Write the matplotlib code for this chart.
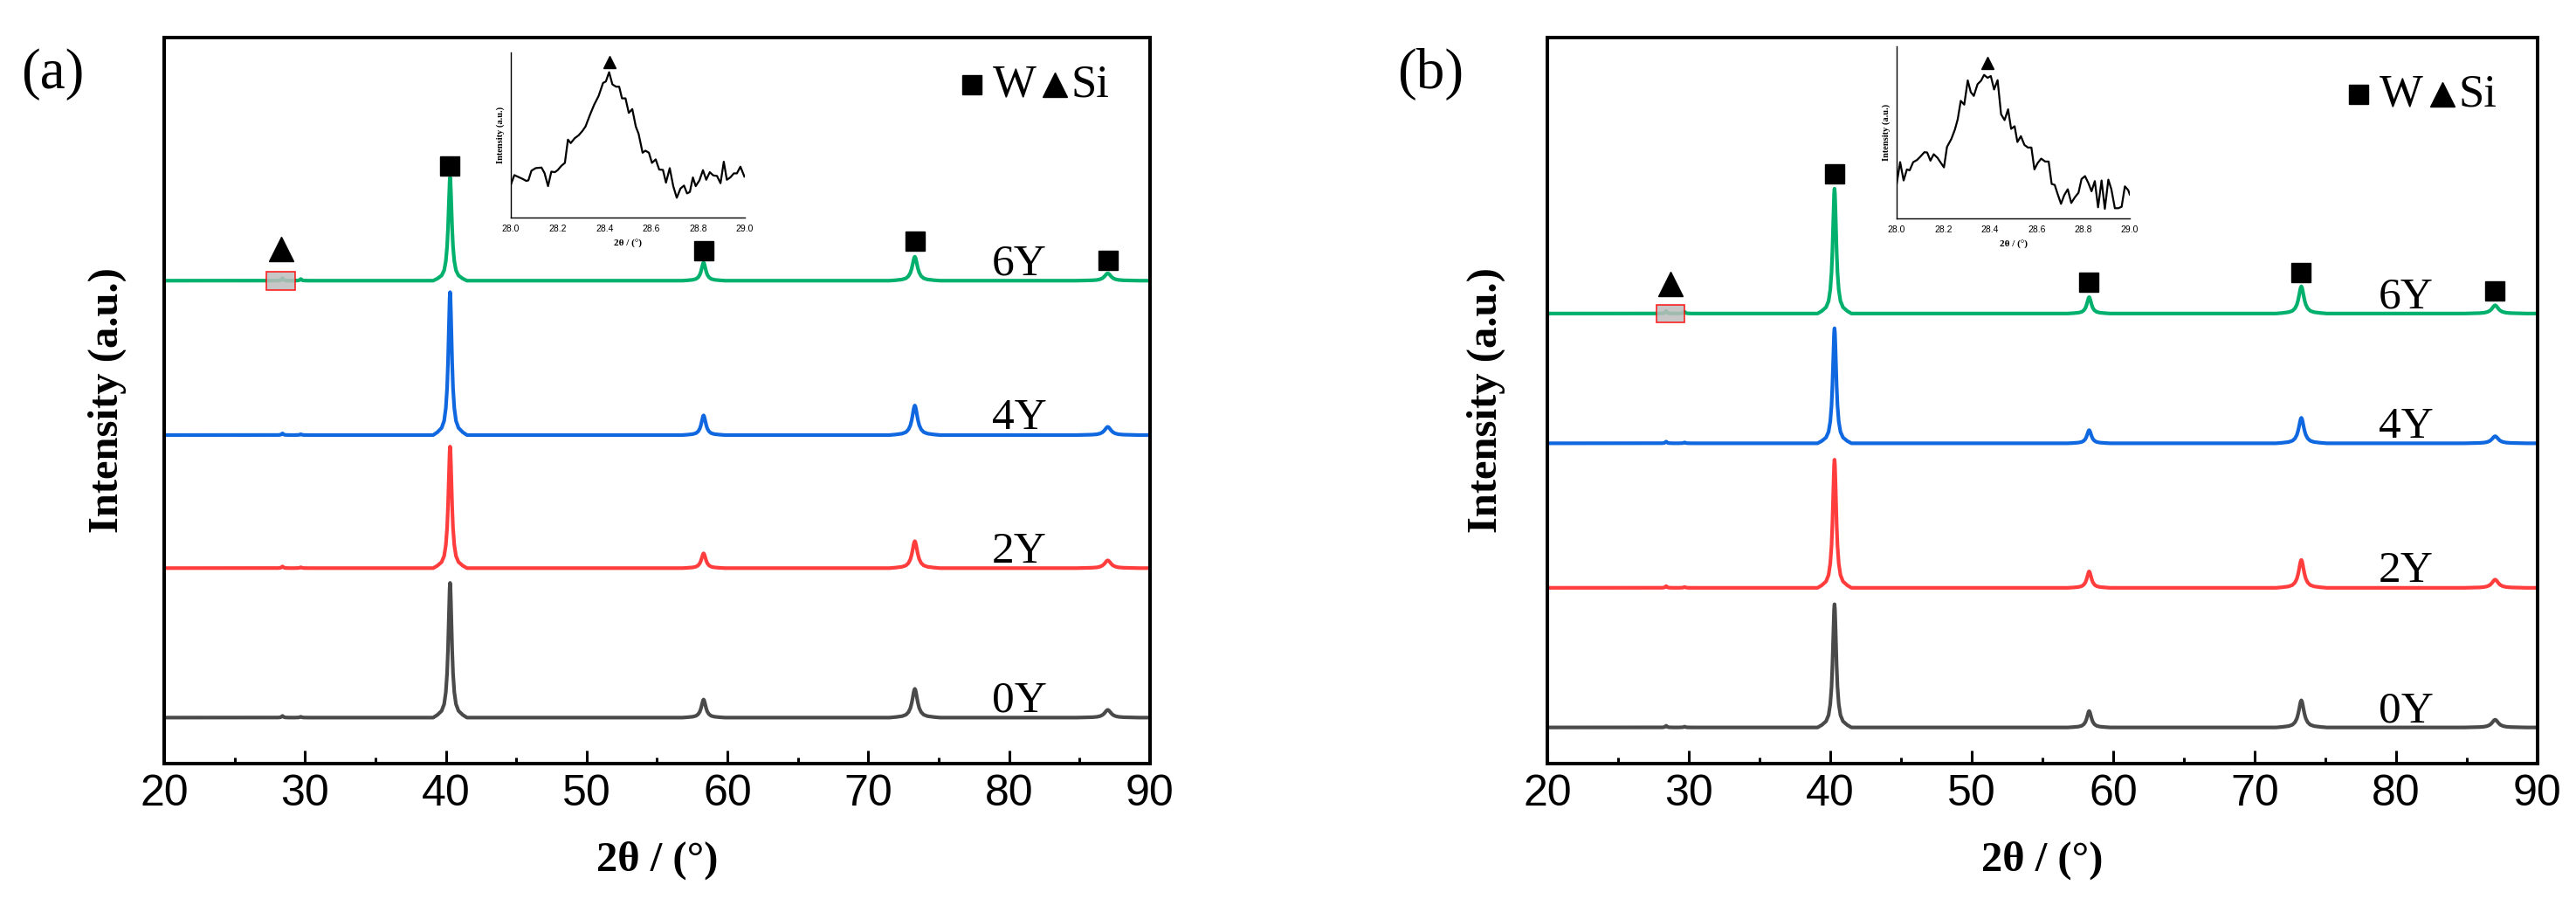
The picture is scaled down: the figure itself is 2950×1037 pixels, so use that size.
import matplotlib
matplotlib.use("Agg")
import matplotlib.pyplot as plt
from matplotlib.patches import Rectangle
from matplotlib.ticker import MultipleLocator, FormatStrFormatter

# ---------------- data ----------------
samples = ["0Y", "2Y", "4Y", "6Y"]
colors = ["#4a4a4a", "#ff3d3d", "#1068e0", "#00b06c"]

# peak positions (2theta, deg) and widths (FWHM, deg)
peak_pos = [28.4, 29.7, 40.3, 58.3, 73.3, 87.0]
peak_fwhm = [0.15, 0.15, 0.30, 0.38, 0.45, 0.55]
# measured peak profile (offset in FWHM units, relative height)
profile_u = [-4, -3, -2, -1.4, -1, -0.7, -0.5, -0.35, -0.2, -0.1, 0,
             0.1, 0.2, 0.35, 0.5, 0.7, 1, 1.4, 2, 3, 4]
profile_rel = [0, 0.02, 0.05, 0.10, 0.19, 0.33, 0.5, 0.67, 0.86, 0.96, 1,
               0.96, 0.86, 0.67, 0.5, 0.33, 0.19, 0.10, 0.05, 0.02, 0]

# panel (a): stacking offsets and peak heights (a.u.)
a_offset = [28, 119, 200, 294]
a_h_0Y = [1.0, 0.5, 82, 11, 17.5, 4.7]
a_h_2Y = [1.0, 0.5, 74, 9, 16.4, 4.7]
a_h_4Y = [1.0, 0.5, 87, 12, 18, 5]
a_h_6Y = [1.5, 1.0, 63, 11, 14.6, 4.5]

# panel (b)
b_offset = [22, 107, 195, 274]
b_h_0Y = [1.0, 0.5, 75, 10, 16.5, 4.7]
b_h_2Y = [1.0, 0.5, 78, 10, 17, 5]
b_h_4Y = [1.0, 0.5, 70, 8, 15.5, 4.3]
b_h_6Y = [1.5, 1.0, 76, 10, 16.5, 5]

# phase markers: (2theta, height)
a_W_x = [40.3, 58.3, 73.3, 87.0]
a_W_y = [364, 312, 318, 306.5]
a_Si_x = [28.3]
a_Si_y = [313.5]
b_W_x = [40.3, 58.3, 73.3, 87.0]
b_W_y = [359, 293, 299, 288]
b_Si_x = [28.7]
b_Si_y = [292]

# inset data (Si peak region)
ia_x = [28.000, 28.015, 28.031, 28.050, 28.066, 28.075, 28.088, 28.106, 28.131, 28.144,
        28.159, 28.173, 28.188, 28.200, 28.216, 28.231, 28.244, 28.256, 28.273, 28.290,
        28.306, 28.319, 28.338, 28.356, 28.375, 28.394, 28.406, 28.420, 28.434, 28.450,
        28.463, 28.475, 28.490, 28.504, 28.519, 28.534, 28.546, 28.563, 28.575, 28.590,
        28.603, 28.619, 28.634, 28.650, 28.663, 28.679, 28.694, 28.709, 28.725, 28.740,
        28.753, 28.765, 28.778, 28.790, 28.806, 28.821, 28.835, 28.850, 28.865, 28.881,
        28.896, 28.910, 28.923, 28.938, 28.953, 28.966, 28.981, 28.998]
ia_y = [113, 146, 140, 133, 126, 128, 161, 170, 172, 153,
        108, 158, 156, 163, 178, 188, 268, 256, 273, 283,
        298, 313, 353, 388, 418, 463, 468, 500, 458, 450,
        450, 410, 410, 360, 373, 313, 288, 223, 230, 223,
        188, 200, 165, 164, 120, 170, 108, 68, 100, 110,
        83, 88, 138, 108, 128, 163, 130, 156, 145, 143,
        118, 192, 130, 138, 152, 152, 175, 141]
ib_x = [28.000, 28.015, 28.030, 28.044, 28.056, 28.071, 28.087, 28.102, 28.119, 28.131,
        28.145, 28.159, 28.175, 28.190, 28.203, 28.216, 28.235, 28.250, 28.262, 28.275,
        28.290, 28.305, 28.318, 28.331, 28.347, 28.362, 28.375, 28.390, 28.404, 28.418,
        28.433, 28.448, 28.463, 28.478, 28.491, 28.506, 28.518, 28.533, 28.548, 28.563,
        28.578, 28.591, 28.605, 28.620, 28.637, 28.652, 28.665, 28.678, 28.690, 28.705,
        28.719, 28.734, 28.749, 28.764, 28.780, 28.793, 28.808, 28.823, 28.836, 28.850,
        28.864, 28.879, 28.893, 28.908, 28.921, 28.936, 28.951, 28.965, 28.979, 28.993,
        29.000]
ib_y = [118, 193, 130, 168, 165, 193, 200, 212, 227, 226,
        198, 220, 208, 190, 175, 245, 273, 305, 340, 403,
        390, 473, 433, 420, 460, 472, 492, 482, 488, 442,
        474, 357, 337, 374, 307, 316, 262, 282, 252, 243,
        243, 168, 190, 205, 195, 195, 118, 115, 85, 50,
        80, 100, 53, 72, 88, 135, 145, 120, 93, 128,
        38, 130, 33, 133, 100, 35, 35, 40, 110, 97,
        82]
ia_Si = (28.42, 536)
ib_Si = (28.39, 533)

x_ticks = [20, 30, 40, 50, 60, 70, 80, 90]
inset_ticks = [28.0, 28.2, 28.4, 28.6, 28.8, 29.0]

# ---------------- styling ----------------
SERIF = ["Liberation Serif", "DejaVu Serif"]
SANS = ["Liberation Sans", "DejaVu Sans"]
plt.rcParams["font.family"] = SERIF
plt.rcParams["mathtext.fontset"] = "stix"

W_PX, H_PX = 2950, 1037
fig = plt.figure(figsize=(W_PX / 100, H_PX / 100), dpi=100)


def build_trace(offset, heights):
    xs, ys = [20.0], [offset]
    for c, w, h in zip(peak_pos, peak_fwhm, heights):
        for u, r in zip(profile_u, profile_rel):
            xs.append(c + u * w)
            ys.append(offset + h * r)
    xs.append(90.0)
    ys.append(offset)
    return xs, ys


def frac(left, top, right, bottom):
    return [left / W_PX, 1 - bottom / H_PX, (right - left) / W_PX, (bottom - top) / H_PX]


def main_panel(rect, offsets, heights, W_x, W_y, Si_x, Si_y, rect_x, letter,
               letter_xy, legend_dy, ylabel_x):
    ax = fig.add_axes(rect)
    for off, h, col, name in zip(offsets, heights, colors, samples):
        xs, ys = build_trace(off, h)
        ax.plot(xs, ys, color=col, lw=3.0, solid_joinstyle="round", zorder=2)
        ax.text(80.7, off + 3.5, name, fontsize=37, ha="center", va="baseline",
                family=SERIF, zorder=4)
    ax.plot(W_x, W_y, ls="none", marker="s", ms=16, color="black", zorder=4)
    ax.plot(Si_x, Si_y, ls="none", marker="^", ms=20, color="black", zorder=4)
    ax.add_patch(Rectangle((rect_x[0], offsets[3] - 5.5), rect_x[1] - rect_x[0], 11,
                           facecolor="#bdbdbd", edgecolor="red", lw=1.2, alpha=0.85,
                           zorder=3))
    ax.set_xlim(20, 90)
    ax.set_ylim(0, 442)
    ax.set_yticks([])
    ax.xaxis.set_major_locator(MultipleLocator(10))
    ax.xaxis.set_minor_locator(MultipleLocator(5))
    ax.set_xticks(x_ticks)
    ax.tick_params(axis="x", which="major", direction="in", length=11, width=2.2,
                   labelsize=36, pad=9, top=False)
    ax.tick_params(axis="x", which="minor", direction="in", length=5, width=2.2, top=False)
    for lab in ax.get_xticklabels():
        lab.set_family(SANS)
    for sp in ax.spines.values():
        sp.set_linewidth(2.9)
    ax.set_xlabel("2θ / (°)", fontsize=35, fontweight="bold", family=SERIF)
    ax.xaxis.set_label_coords(0.5, -0.133)
    ax.xaxis.label.set_va("center")
    ax.set_ylabel("Intensity (a.u.)", fontsize=35, fontweight="bold", family=SERIF)
    ax.yaxis.set_label_coords(ylabel_x, 0.5)
    ax.yaxis.label.set_va("center")
    # legend of phases
    ly = 0.935 - legend_dy
    ax.plot([0.819], [ly], transform=ax.transAxes, marker="s", ms=16, color="black",
            ls="none", clip_on=False)
    ax.text(0.8406, ly - 0.016, "W", transform=ax.transAxes, fontsize=38,
            va="baseline", ha="left", family=SERIF)
    ax.plot([0.9035], [ly], transform=ax.transAxes, marker="^", ms=20, color="black",
            ls="none", clip_on=False)
    ax.text(0.920, ly - 0.016, "Si", transform=ax.transAxes, fontsize=38,
            va="baseline", ha="left", family=SERIF)
    fig.text(letter_xy[0] / W_PX, 1 - letter_xy[1] / H_PX, letter, fontsize=47,
             ha="center", va="center", family=SERIF)
    return ax


def inset(rect, xs, ys, ymax, si):
    ax = fig.add_axes(rect)
    ax.plot(xs, ys, color="black", lw=1.6)
    ax.plot([si[0]], [si[1]], marker="^", ms=10, color="black", ls="none", clip_on=False)
    ax.set_xlim(28.0, 29.0)
    ax.set_ylim(0, ymax)
    ax.set_xticks(inset_ticks)
    ax.xaxis.set_major_formatter(FormatStrFormatter("%.1f"))
    ax.set_yticks([])
    ax.tick_params(axis="x", length=0, labelsize=7.5, pad=6)
    for lab in ax.get_xticklabels():
        lab.set_family(SANS)
    ax.spines["top"].set_visible(False)
    ax.spines["right"].set_visible(False)
    ax.spines["left"].set_linewidth(1.0)
    ax.spines["bottom"].set_linewidth(1.0)
    ax.patch.set_alpha(0)
    ax.set_xlabel("2θ / (°)", fontsize=8, fontweight="bold", family=SERIF, labelpad=5)
    ax.set_ylabel("Intensity (a.u.)", fontsize=7.5, fontweight="bold", family=SERIF,
                  labelpad=5)
    return ax


main_panel(frac(188, 43, 1317, 874), a_offset, [a_h_0Y, a_h_2Y, a_h_4Y, a_h_6Y],
           a_W_x, a_W_y, a_Si_x, a_Si_y, (27.25, 29.3), "(a)", (60, 85), 0.0, -0.058)
main_panel(frac(1772, 43, 2906, 874), b_offset, [b_h_0Y, b_h_2Y, b_h_4Y, b_h_6Y],
           b_W_x, b_W_y, b_Si_x, b_Si_y, (27.7, 29.7), "(b)", (1638, 85), 0.013, -0.062)

inset(frac(585, 60, 853, 249), ia_x, ia_y, 568, ia_Si)
inset(frac(2172, 53, 2439, 250), ib_x, ib_y, 590, ib_Si)

fig.savefig("out.png", dpi=100)
